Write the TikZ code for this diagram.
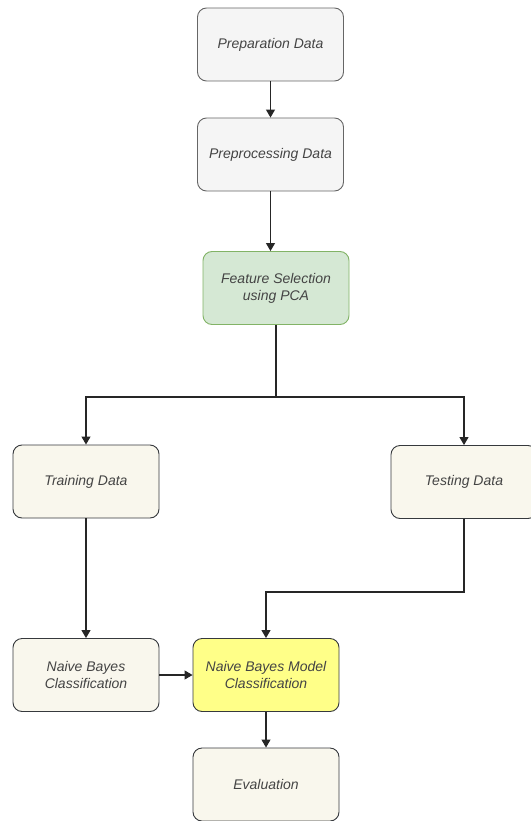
\documentclass[tikz,border=0pt]{standalone}
\usepackage{fontspec}
\setmainfont{Liberation Sans}
\usetikzlibrary{arrows.meta,calc}
\definecolor{boxgray}{HTML}{F5F5F5}
\definecolor{bordgray}{HTML}{666666}
\definecolor{greenfill}{HTML}{D5E8D4}
\definecolor{greenbord}{HTML}{82B366}
\definecolor{creamfill}{HTML}{F9F7ED}
\definecolor{darkbord}{HTML}{36393D}
\definecolor{yelfill}{HTML}{FFFF88}
\definecolor{txtgray}{HTML}{444444}
\begin{document}
\begin{tikzpicture}[x=1pt,y=-1pt,
  proc/.style={draw, rounded corners=9pt, minimum width=146pt, minimum height=73pt,
    align=center, font=\itshape\fontsize{14}{17}\selectfont, text=txtgray, line width=0.9pt, inner sep=2pt},
  graybox/.style={proc, fill=boxgray, draw=bordgray},
  greenbox/.style={proc, fill=greenfill, draw=greenbord},
  creambox/.style={proc, fill=creamfill, draw=darkbord},
  yelbox/.style={proc, fill=yelfill, draw=darkbord},
  conn/.style={draw=black!85, line width=1.1pt, -{Triangle[length=8pt,width=9pt]}},
  line/.style={draw=black!85, line width=1.1pt}]
\useasboundingbox (0,0) rectangle (530,821);
\node[graybox] (prep) at (270.5,44.5) {Preparation Data};
\node[graybox] (preproc) at (270.5,154.5) {Preprocessing Data};
\node[greenbox] (feat) at (276,288) {Feature Selection\\using PCA};
\node[creambox] (train) at (86,481.5) {Training Data};
\node[creambox] (test) at (464,482) {Testing Data};
\node[creambox] (nbc) at (86,675) {Naive Bayes\\Classification};
\node[yelbox] (model) at (266,675) {Naive Bayes Model\\Classification};
\node[creambox] (eval) at (266,784.5) {Evaluation};
\coordinate (split) at ($(feat.south)+(0,72)$);
\coordinate (join) at ($(test.south)+(0,73)$);
\draw[conn] (prep) -- (preproc);
\draw[conn] (preproc.south) -- (preproc.south |- feat.north);
\draw[line] (feat.south) -- (split);
\draw[conn] (split) -| (train.north);
\draw[conn] (split) -| (test.north);
\draw[conn] (train) -- (nbc);
\draw[conn] (test.south) -- (join) -| (model.north);
\draw[conn] (nbc) -- (model);
\draw[conn] (model) -- (eval);
\end{tikzpicture}
\end{document}
